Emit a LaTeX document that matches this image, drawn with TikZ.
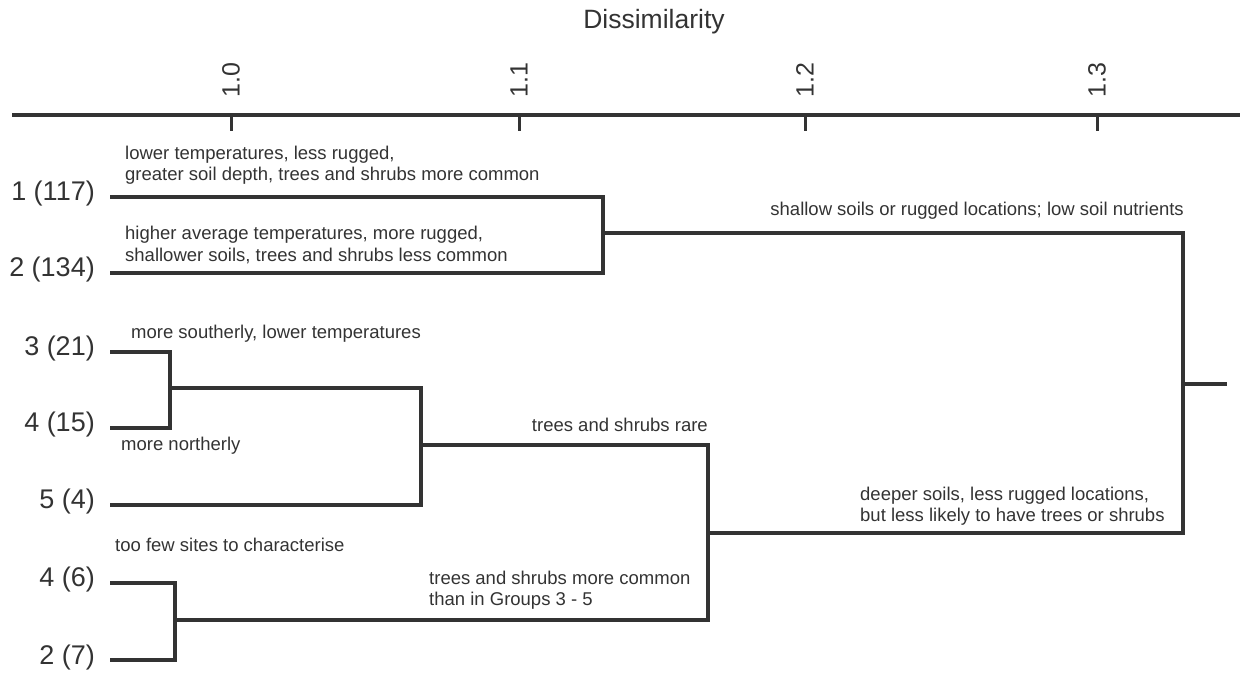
\documentclass[tikz,border=0pt]{standalone}
\usepackage{fontspec}
\setmainfont{Liberation Sans}
\definecolor{ink}{HTML}{333333}
\begin{document}
\begin{tikzpicture}[x=1pt,y=-1pt,
  branch/.style={draw=ink,line width=3.6pt,line cap=rect},
  axisline/.style={draw=ink,line width=4.5pt},
  tickline/.style={draw=ink,line width=3pt},
  leaf/.style={anchor=east,inner sep=0pt,text=ink,font=\fontsize{27}{29}\selectfont},
  note/.style={inner sep=0pt,text=ink,align=left,font=\fontsize{18.5}{21.5}\selectfont},
  ticklabel/.style={rotate=90,inner sep=0pt,text=ink,font=\fontsize{25}{27}\selectfont}]
\useasboundingbox (0,0) rectangle (1252,678);
% axis
\node[inner sep=0pt,text=ink,font=\fontsize{26.5}{28}\selectfont] (title) at (654,22) {Dissimilarity};
\coordinate (axL) at (12,115);
\coordinate (axR) at (1240,115);
\draw[axisline] (axL) -- (axR);
\foreach \xx/\lab/\nm in {231/1.0/a,519/1.1/b,805/1.2/c,1097/1.3/d}{
  \coordinate (t\nm) at (\xx,115);
  \coordinate (tb\nm) at (\xx,131);
  \draw[tickline] (t\nm) -- (tb\nm);
  \node[ticklabel] (tl\nm) at (\xx,80) {\lab};
}
% leaves
\node[leaf] (l1) at (95,194) {1 (117)};
\node[leaf] (l2) at (95,270) {2 (134)};
\node[leaf] (l3) at (95,349) {3 (21)};
\node[leaf] (l4) at (95,425) {4 (15)};
\node[leaf] (l5) at (95,502) {5 (4)};
\node[leaf] (l6) at (95,580) {4 (6)};
\node[leaf] (l7) at (95,657) {2 (7)};
% leaf line starts
\coordinate (s1) at (112,197);
\coordinate (s2) at (112,273);
\coordinate (s3) at (112,352);
\coordinate (s4) at (112,428);
\coordinate (s5) at (112,505);
\coordinate (s6) at (112,583);
\coordinate (s7) at (112,660);
% joints
\coordinate (j12a) at (603,197);
\coordinate (j12b) at (603,273);
\coordinate (j12) at (603,233);
\coordinate (j34a) at (170,352);
\coordinate (j34b) at (170,428);
\coordinate (j34) at (170,388);
\coordinate (j345a) at (421,388);
\coordinate (j345b) at (421,505);
\coordinate (j345) at (421,445);
\coordinate (j67a) at (175,583);
\coordinate (j67b) at (175,660);
\coordinate (j67) at (175,620);
\coordinate (jLa) at (708,445);
\coordinate (jLb) at (708,620);
\coordinate (jL) at (708,533);
\coordinate (jRa) at (1183,233);
\coordinate (jRb) at (1183,533);
\coordinate (jR) at (1183,384);
\coordinate (root) at (1225,384);
% branches
\draw[branch] (s1) -- (j12a) -- (j12b) -- (s2);
\draw[branch] (j12) -- (jRa) -- (jRb) -- (jL);
\draw[branch] (s3) -- (j34a) -- (j34b) -- (s4);
\draw[branch] (j34) -- (j345a) -- (j345b) -- (s5);
\draw[branch] (j345) -- (jLa) -- (jLb) -- (j67);
\draw[branch] (s6) -- (j67a) -- (j67b) -- (s7);
\draw[branch] (jR) -- (root);
% notes
\node[note,anchor=west] (n1) at (125,165) {lower temperatures, less rugged,\\greater soil depth, trees and shrubs more common};
\node[note,anchor=west] (n2) at (125,245) {higher average temperatures, more rugged,\\shallower soils, trees and shrubs less common};
\node[note,anchor=east] (n3) at (1184,211) {shallow soils or rugged locations; low soil nutrients};
\node[note,anchor=west] (n4) at (131,334) {more southerly, lower temperatures};
\node[note,anchor=west] (n5) at (121,446) {more northerly};
\node[note,anchor=east] (n6) at (708,425) {trees and shrubs rare};
\node[note,anchor=west] (n7) at (115,545) {too few sites to characterise};
\node[note,anchor=west] (n8) at (429,590) {trees and shrubs more common\\than in Groups 3 - 5};
\node[note,anchor=west] (n9) at (860,506) {deeper soils, less rugged locations,\\but less likely to have trees or shrubs};
\end{tikzpicture}
\end{document}
